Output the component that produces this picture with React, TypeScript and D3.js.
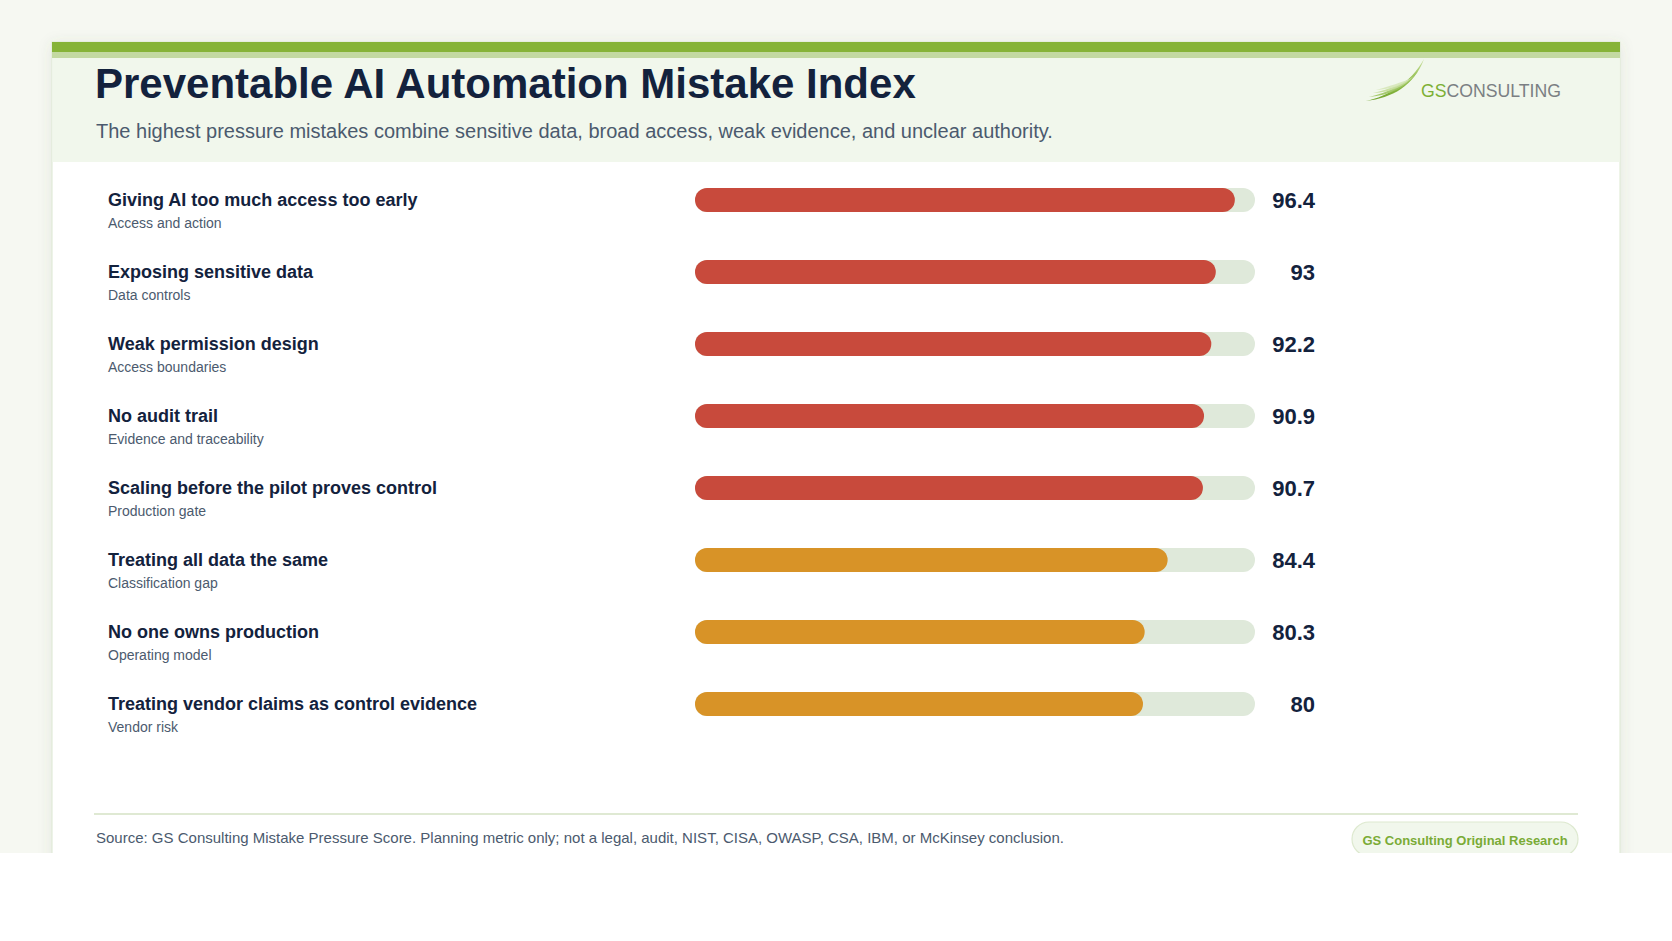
import { useMemo } from "react";
import * as d3 from "d3";

const mistakes = [
  "Giving AI too much access too early",
  "Exposing sensitive data",
  "Weak permission design",
  "No audit trail",
  "Scaling before the pilot proves control",
  "Treating all data the same",
  "No one owns production",
  "Treating vendor claims as control evidence",
];
const areas = [
  "Access and action",
  "Data controls",
  "Access boundaries",
  "Evidence and traceability",
  "Production gate",
  "Classification gap",
  "Operating model",
  "Vendor risk",
];
const scores = [96.4, 93, 92.2, 90.9, 90.7, 84.4, 80.3, 80];
const tiers = ["high", "high", "high", "high", "high", "elevated", "elevated", "elevated"];

const W = 1672;
const H = 941;
const FONT = "'Liberation Sans', Arial, Helvetica, sans-serif";
const NAVY = "#13223d";
const SLATE = "#4b5a6e";

export default function App() {
  const x = useMemo(() => d3.scaleLinear().domain([0, 100]).range([695, 1255]), []);
  const y = useMemo(
    () => d3.scaleBand<string>().domain(mistakes).range([164, 164 + 72 * mistakes.length]).padding(0),
    []
  );
  const color = d3.scaleOrdinal<string, string>().domain(["high", "elevated"]).range(["#c84a3c", "#d89327"]);
  const barH = 24;

  return (
    <svg
      width={W}
      height={H}
      viewBox={`0 0 ${W} ${H}`}
      style={{ position: "absolute", left: 0, top: 0, display: "block" }}
    >
      <defs>
        <filter id="cardShadow" x="-5%" y="-5%" width="110%" height="110%">
          <feDropShadow dx="0" dy="2" stdDeviation="7" floodColor="#5a6b4a" floodOpacity="0.12" />
        </filter>
        <clipPath id="pageClip">
          <rect x={0} y={0} width={W} height={853} />
        </clipPath>
        <linearGradient id="swoosh" x1="0" y1="1" x2="1" y2="0">
          <stop offset="0%" stopColor="#6fa22c" />
          <stop offset="60%" stopColor="#8dbb45" />
          <stop offset="100%" stopColor="#c9df9f" />
        </linearGradient>
      </defs>

      <rect x={0} y={0} width={W} height={H} fill="#ffffff" />
      <g clipPath="url(#pageClip)">
        <rect x={0} y={0} width={W} height={853} fill="#f6f8f2" />
        <rect x={52} y={42} width={1568} height={840} fill="#ffffff" stroke="#dce8d1" strokeWidth={1} filter="url(#cardShadow)" />
        <rect x={52.5} y={58} width={1567} height={104} fill="#f1f7ec" />
        <rect x={52} y={42} width={1568} height={10} fill="#86b337" />
        <rect x={52} y={52} width={1568} height={6} fill="#c3d9a1" />

        <text x={95} y={98} fontFamily={FONT} fontWeight={700} fontSize={42} fill={NAVY}>
          Preventable AI Automation Mistake Index
        </text>
        <text x={96} y={138} fontFamily={FONT} fontSize={20} fill={SLATE}>
          The highest pressure mistakes combine sensitive data, broad access, weak evidence, and unclear authority.
        </text>

        {/* logo */}
        <g>
          <path d="M1366,101 C1388,96 1410,84 1424,59 C1414,86 1392,98 1366,101 Z" fill="url(#swoosh)" />
          <path d="M1369,97 C1389,92 1406,84 1418,71 C1407,88 1390,95 1369,97 Z" fill="#9cc460" opacity={0.9} />
          <path d="M1373,93 C1390,89 1404,83 1414,76 C1404,87 1391,92 1373,93 Z" fill="#c3dc98" opacity={0.9} />
          <path d="M1376,90 C1391,86 1401,82 1410,79 C1401,86 1391,89 1376,90 Z" fill="#d6e7b9" opacity={0.9} />
          <text x={1421} y={97} fontFamily={FONT} fontSize={18.5} textLength={140} lengthAdjust="spacingAndGlyphs">
            <tspan fill="#7db034">GS</tspan>
            <tspan fill="#7b7f83">CONSULTING</tspan>
          </text>
        </g>

        {mistakes.map((m, i) => {
          const cy = (y(m) ?? 0) + y.bandwidth() / 2;
          return (
            <g key={m}>
              <text x={108} y={cy + 6} fontFamily={FONT} fontWeight={700} fontSize={18} fill={NAVY}>
                {m}
              </text>
              <text x={108} y={cy + 28} fontFamily={FONT} fontSize={14} fill={SLATE}>
                {areas[i]}
              </text>
              <rect x={x(0)} y={cy - barH / 2} width={x(100) - x(0)} height={barH} rx={barH / 2} fill="#dfe9da" />
              <rect
                x={x(0)}
                y={cy - barH / 2}
                width={x(scores[i]) - x(0)}
                height={barH}
                rx={barH / 2}
                fill={color(tiers[i])}
              />
              <text
                x={1315}
                y={cy + 8}
                textAnchor="end"
                fontFamily={FONT}
                fontWeight={700}
                fontSize={22}
                fill={NAVY}
              >
                {d3.format("~f")(scores[i])}
              </text>
            </g>
          );
        })}

        <line x1={94} x2={1578} y1={814} y2={814} stroke="#dfe9d3" strokeWidth={2} />
        <text x={96} y={843} fontFamily={FONT} fontSize={15} fill={SLATE}>
          Source: GS Consulting Mistake Pressure Score. Planning metric only; not a legal, audit, NIST, CISA, OWASP, CSA, IBM, or McKinsey conclusion.
        </text>
        <rect x={1352} y={822} width={226} height={34} rx={17} fill="#f1f7ec" stroke="#dde9cf" strokeWidth={1.2} />
        <text x={1465} y={845} textAnchor="middle" fontFamily={FONT} fontWeight={700} fontSize={13} fill="#7aab36">
          GS Consulting Original Research
        </text>
      </g>
    </svg>
  );
}
